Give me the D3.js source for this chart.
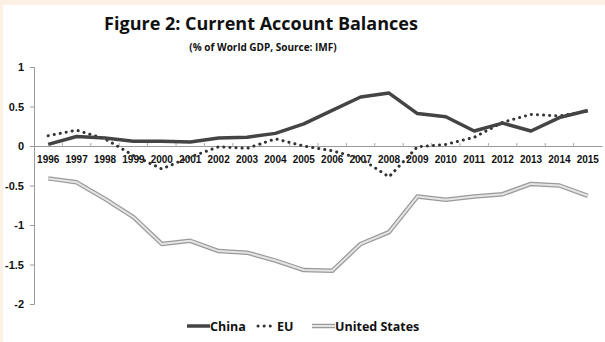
<!DOCTYPE html>
<html lang="en">
<head>
    <meta charset="UTF-8">
    <title>Figure 2: Current Account Balances</title>
    <style>
        body { margin: 0; background: #ffffff; }
        svg { display: block; font-family: "Open Sans", "Noto Sans", sans-serif; }
    </style>
</head>
<body>
    <div id="chart"></div>

    <script src="https://d3js.org/d3.v7.min.js"></script>
    <script>
        // Data (% of world GDP)
        var years = ["1996","1997","1998","1999","2000","2001","2002","2003","2004","2005",
                     "2006","2007","2008","2009","2010","2011","2012","2013","2014","2015"];
        var china = [0.02, 0.12, 0.10, 0.06, 0.06, 0.05, 0.10, 0.11, 0.16, 0.28,
                     0.45, 0.62, 0.67, 0.41, 0.37, 0.19, 0.29, 0.19, 0.36, 0.45];
        var eu = [0.13, 0.20, 0.09, -0.12, -0.29, -0.14, -0.01, -0.03, 0.09, 0.00,
                  -0.06, -0.16, -0.39, -0.01, 0.02, 0.11, 0.30, 0.40, 0.38, 0.44];
        var us = [-0.41, -0.46, -0.67, -0.90, -1.24, -1.20, -1.33, -1.35, -1.45, -1.57,
                  -1.58, -1.24, -1.09, -0.64, -0.68, -0.64, -0.61, -0.48, -0.50, -0.63];
        var yTicks = [1, 0.5, 0, -0.5, -1, -1.5, -2];

        var width = 605, height = 342;

        var svg = d3.select("#chart")
                    .append("svg")
                    .attr("width", width)
                    .attr("height", height);

        // faint peach border from the original screenshot
        svg.append("rect").attr("x", 0).attr("y", 0).attr("width", width).attr("height", 5).attr("fill", "#fcefe3");
        svg.append("rect").attr("x", 0).attr("y", 0).attr("width", 3).attr("height", height).attr("fill", "#fcefe3");

        // titles
        svg.append("text")
            .attr("x", 261).attr("y", 30)
            .attr("text-anchor", "middle")
            .attr("font-size", "18px")
            .attr("font-weight", "bold")
            .attr("fill", "#111")
            .text("Figure 2: Current Account Balances");

        svg.append("text")
            .attr("x", 263).attr("y", 51)
            .attr("text-anchor", "middle")
            .attr("font-size", "10px")
            .attr("font-weight", "bold")
            .attr("fill", "#111")
            .text("(% of World GDP, Source: IMF)");

        // scales
        var x = d3.scaleBand().domain(years).range([34, 602]);
        var y = d3.scaleLinear().domain([-2, 1]).range([304, 67]);

        // y axis
        var yAxis = svg.append("g")
            .attr("transform", "translate(34,0)")
            .call(d3.axisLeft(y).tickValues(yTicks).tickSize(4).tickPadding(6)
                    .tickFormat(function(d) { return String(d); }));
        yAxis.select(".domain").attr("stroke", "#999");
        yAxis.selectAll(".tick line").attr("stroke", "#999");
        yAxis.selectAll(".tick text")
            .attr("font-size", "11px")
            .attr("font-weight", "bold")
            .attr("fill", "#111");

        // x axis along zero line
        var xAxis = svg.append("g")
            .attr("transform", "translate(0," + y(0) + ")")
            .call(d3.axisBottom(x).tickSize(0).tickPadding(10));
        xAxis.select(".domain").attr("stroke", "#999");
        xAxis.selectAll(".tick text")
            .attr("font-size", "10px")
            .attr("font-weight", "bold")
            .attr("fill", "#111");
        // tick marks at category boundaries
        xAxis.selectAll(".sep")
            .data(years.slice(1))
            .enter()
            .append("line")
            .attr("class", "sep")
            .attr("x1", function(d) { return x(d); })
            .attr("x2", function(d) { return x(d); })
            .attr("y1", -3).attr("y2", 1)
            .attr("stroke", "#aaa");

        var line = d3.line()
            .x(function(d, i) { return x(years[i]) + x.bandwidth() / 2; })
            .y(function(d) { return y(d); });

        // United States: light double line
        svg.append("path").datum(us)
            .attr("d", line).attr("fill", "none")
            .attr("stroke", "#9a9a9a").attr("stroke-width", 4.5)
            .attr("stroke-linejoin", "round");
        svg.append("path").datum(us)
            .attr("d", line).attr("fill", "none")
            .attr("stroke", "#e4e4e4").attr("stroke-width", 2)
            .attr("stroke-linejoin", "round");

        // EU dotted
        svg.append("path").datum(eu)
            .attr("d", line).attr("fill", "none")
            .attr("stroke", "#333").attr("stroke-width", 3)
            .attr("stroke-dasharray", "0.1,6")
            .attr("stroke-linecap", "round");

        // China solid dark
        svg.append("path").datum(china)
            .attr("d", line).attr("fill", "none")
            .attr("stroke", "#444").attr("stroke-width", 3.5)
            .attr("stroke-linejoin", "round");

        // legend
        var legendY = 326;
        var legend = svg.append("g").attr("font-size", "12.5px").attr("font-weight", "bold").attr("fill", "#111");

        legend.append("line").attr("x1", 187).attr("x2", 210).attr("y1", legendY).attr("y2", legendY)
            .attr("stroke", "#444").attr("stroke-width", 3.5);
        legend.append("text").attr("x", 210).attr("y", legendY + 5).text("China");

        legend.append("line").attr("x1", 258).attr("x2", 274).attr("y1", legendY).attr("y2", legendY)
            .attr("stroke", "#333").attr("stroke-width", 3)
            .attr("stroke-dasharray", "0.1,6").attr("stroke-linecap", "round");
        legend.append("text").attr("x", 277).attr("y", legendY + 5).text("EU");

        legend.append("line").attr("x1", 312).attr("x2", 335).attr("y1", legendY).attr("y2", legendY)
            .attr("stroke", "#9a9a9a").attr("stroke-width", 4.5);
        legend.append("line").attr("x1", 312).attr("x2", 335).attr("y1", legendY).attr("y2", legendY)
            .attr("stroke", "#e4e4e4").attr("stroke-width", 2);
        legend.append("text").attr("x", 335).attr("y", legendY + 5).text("United States");
    </script>
</body>
</html>
